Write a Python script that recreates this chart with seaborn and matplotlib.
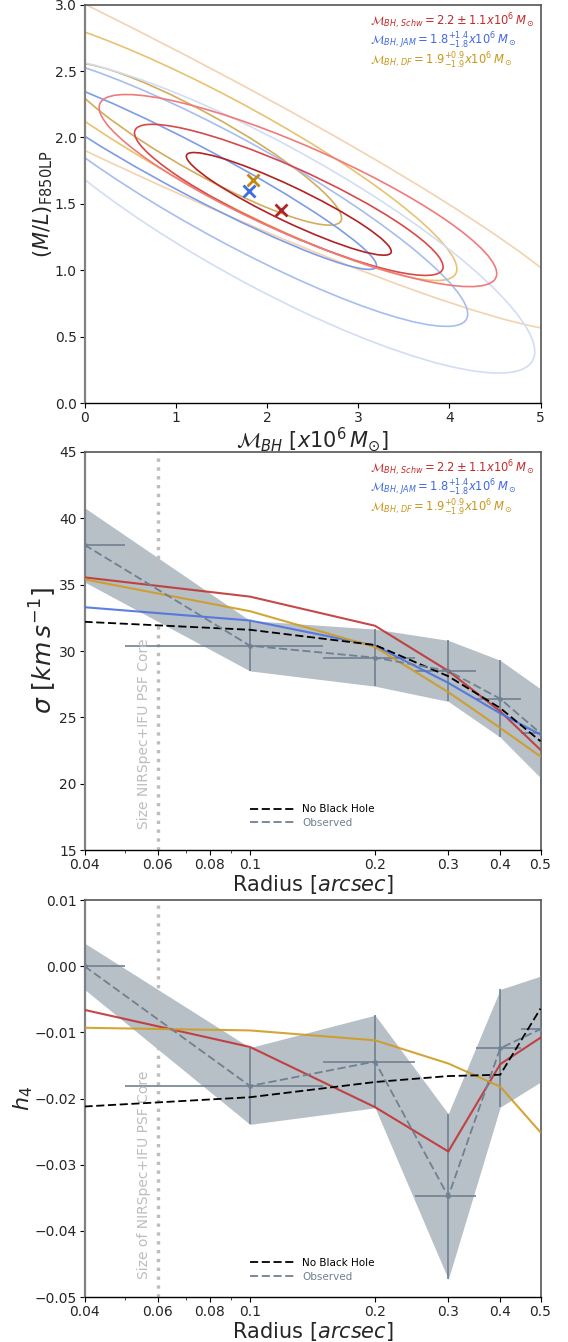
import numpy as np
import pandas as pd
import seaborn as sns
import matplotlib
matplotlib.use("Agg")
import matplotlib.pyplot as plt
from matplotlib.patches import Ellipse
from matplotlib.ticker import NullFormatter, FixedLocator, FixedFormatter

# ---------------- data ----------------
# Panel 1: confidence regions (centre x, centre y, half-major, half-minor, angle deg)
schw_cx = [2.24, 2.24, 2.34]
schw_cy = [1.50, 1.53, 1.60]
schw_a = [1.18, 1.767, 2.27]
schw_b = [0.138, 0.253, 0.35]
schw_ang = [-17.95, -16.95, -16.4]

jam_cx = [1.2, 1.6, 2.0]
jam_cy = [1.75, 1.61, 1.42]
jam_a = [2.126, 2.77, 3.12]
jam_b = [0.198, 0.404, 0.565]
jam_ang = [-19.8, -20.3, -20.06]

df_cx = [1.30, 1.49, -0.5]
df_cy = [1.95, 1.93, 2.62]
df_a = [1.62, 2.755, 6.36]
df_b = [0.234, 0.386, 0.525]
df_ang = [-20.6, -19.95, -18.5]

best_mbh = [2.155, 1.807, 1.845]     # Schw, JAM, DF
best_ml = [1.457, 1.599, 1.68]

# Panels 2/3: kinematic profiles
radius = [0.04, 0.1, 0.2, 0.3, 0.4, 0.5]
rad_lo = [0.04, 0.05, 0.15, 0.25, 0.35, 0.45]
rad_hi = [0.05, 0.15, 0.25, 0.35, 0.45, 0.55]

sigma_obs = [38.0, 30.4, 29.5, 28.5, 26.4, 23.8]
sigma_err = [2.8, 1.9, 2.15, 2.3, 2.9, 3.35]
sigma_schw = [35.55, 34.1, 31.9, 28.5, 25.45, 22.55]
sigma_jam = [33.3, 32.3, 30.4, 27.6, 25.3, 23.7]
sigma_df = [35.4, 33.0, 30.3, 26.9, 24.2, 22.05]
sigma_nobh = [32.2, 31.6, 30.45, 28.1, 25.7, 23.2]

h4_obs = [0.0, -0.0181, -0.0144, -0.0348, -0.0124, -0.0095]
h4_err = [0.0035, 0.0058, 0.007, 0.0125, 0.0089, 0.008]
h4_schw = [-0.0066, -0.0122, -0.0213, -0.028, -0.0148, -0.0108]
h4_df = [-0.0093, -0.0097, -0.0112, -0.0147, -0.0182, -0.0251]
h4_nobh = [-0.0212, -0.0198, -0.0175, -0.0166, -0.0164, -0.0064]

xticks_log = [0.04, 0.06, 0.08, 0.1, 0.2, 0.3, 0.4, 0.5]
xticklabels_log = ['0.04', '0.06', '0.08', '0.1', '0.2', '0.3', '0.4', '0.5']
minor_log = [0.05, 0.07, 0.09]
psf_radius = 0.06

lab_schw = r'$\mathcal{M}_{BH,\,Schw} = 2.2 \pm 1.1x10^6\,M_\odot$'
lab_jam = r'$\mathcal{M}_{BH,\,JAM} = 1.8^{+1.4}_{-1.8}x10^6\,M_\odot$'
lab_df = r'$\mathcal{M}_{BH,\,DF} = 1.9^{+0.9}_{-1.9}x10^6\,M_\odot$'

# ---------------- style ----------------
sns.set_theme(style="ticks")
plt.rcParams['font.family'] = ['DejaVu Sans']
plt.rcParams['mathtext.fontset'] = 'dejavusans'
plt.rcParams['axes.unicode_minus'] = True

C_RED = '#c03535'
C_BLUE = '#4a72e0'
C_GOLD = '#cf9c22'
C_OBS = '#708090'
C_PSF = '#bdbdbd'

red_cols = ['#b22222', '#d94848', '#f07a7a']
blue_cols = ['#7d9ce8', '#a6bdf0', '#d2ddf3']
gold_cols = ['#d2ad5c', '#e8c270', '#f3d2b0']

fig = plt.figure(figsize=(5.68, 13.42), dpi=100)
L, W = 0.1488, 0.8028
ax1 = fig.add_axes([L, 0.6997, W, 0.2968])
ax2 = fig.add_axes([L, 0.3666, W, 0.2966])
ax3 = fig.add_axes([L, 0.0335, W, 0.2958])


def style_axes(ax):
    for s in ['top', 'right']:
        ax.spines[s].set_color('#555555')
        ax.spines[s].set_linewidth(1.2)
    ax.spines['left'].set_color('#808080')
    ax.spines['left'].set_linewidth(1.6)
    ax.spines['bottom'].set_color('black')
    ax.spines['bottom'].set_linewidth(1.0)
    ax.tick_params(axis='both', which='major', direction='out', length=3.5,
                   width=0.8, labelsize=10, color='black', pad=2)
    ax.tick_params(axis='both', which='minor', direction='out', length=2,
                   width=0.6)


# ---------------- panel 1 ----------------
for cx, cy, a, b, ang, cols in [
        (df_cx, df_cy, df_a, df_b, df_ang, gold_cols),
        (jam_cx, jam_cy, jam_a, jam_b, jam_ang, blue_cols),
        (schw_cx, schw_cy, schw_a, schw_b, schw_ang, red_cols)]:
    for i in range(3):
        e = Ellipse((cx[i], cy[i]), 2 * a[i], 2 * b[i], angle=ang[i],
                    fill=False, edgecolor=cols[i], lw=1.2)
        ax1.add_patch(e)

mk_cols = ['#b22222', '#3b6fe0', '#c08a10']
for i in range(3):
    ax1.plot(best_mbh[i], best_ml[i], marker='x', ms=9, mew=2,
             color=mk_cols[i], ls='none')

ax1.set_xlim(0, 5)
ax1.set_ylim(0, 3)
ax1.set_xticks([0, 1, 2, 3, 4, 5])
ax1.set_yticks(np.arange(0, 3.01, 0.5))
ax1.set_yticklabels([f'{v:.1f}' for v in np.arange(0, 3.01, 0.5)])
ax1.set_xlabel(r'$\mathcal{M}_{BH}\ [x10^6\,M_{\odot}]$', fontsize=15, labelpad=1)
ax1.set_ylabel(r'$(M/L)_{\rm F850LP}$', fontsize=15, labelpad=0)
style_axes(ax1)


def mass_labels(ax):
    ax.text(0.626, 0.960, lab_schw, color='#c42a2a', fontsize=8.3,
            transform=ax.transAxes, va='center', ha='left')
    ax.text(0.626, 0.910, lab_jam, color='#4169e1', fontsize=8.3,
            transform=ax.transAxes, va='center', ha='left')
    ax.text(0.626, 0.859, lab_df, color='#c8961a', fontsize=8.3,
            transform=ax.transAxes, va='center', ha='left')


mass_labels(ax1)


# ---------------- panels 2 & 3 ----------------
def kin_panel(ax, obs, err, models, nobh, ylim, yticks, yticklabels, ylabel,
              ylabel_size, psf_text, psf_y, leg_anchor):
    lo = np.array(obs) - np.array(err)
    hi = np.array(obs) + np.array(err)
    ax.fill_between(radius, lo, hi, color=C_OBS, alpha=0.5, lw=0)
    xerr = [np.array(radius) - np.array(rad_lo), np.array(rad_hi) - np.array(radius)]
    ax.errorbar(radius, obs, yerr=err, xerr=xerr, fmt='o', ms=2.5,
                color=C_OBS, ecolor=C_OBS, alpha=0.85, elinewidth=1.4,
                capsize=0, zorder=3)
    ax.axvline(psf_radius, color=C_PSF, ls=':', lw=2.4, zorder=1)
    for vals, col in models:
        sns.lineplot(x=radius, y=vals, ax=ax, color=col, lw=1.5, alpha=0.9,
                     zorder=4)
    sns.lineplot(x=radius, y=nobh, ax=ax, color='black', lw=1.3, zorder=5,
                 label='No Black Hole')
    ax.lines[-1].set_linestyle((0, (4.5, 2)))
    sns.lineplot(x=radius, y=obs, ax=ax, color=C_OBS, lw=1.3, zorder=5,
                 label='Observed')
    ax.lines[-1].set_linestyle((0, (4.5, 2)))
    ax.set_xscale('log')
    ax.set_xlim(0.04, 0.5)
    ax.set_ylim(*ylim)
    ax.xaxis.set_major_locator(FixedLocator(xticks_log))
    ax.xaxis.set_major_formatter(FixedFormatter(xticklabels_log))
    ax.xaxis.set_minor_locator(FixedLocator(minor_log))
    ax.xaxis.set_minor_formatter(NullFormatter())
    ax.set_yticks(yticks)
    ax.set_yticklabels(yticklabels)
    ax.set_xlabel(r'Radius [$arcsec$]', fontsize=15, labelpad=1)
    ax.set_ylabel(ylabel, fontsize=ylabel_size, labelpad=0)
    ax.text(0.0557, psf_y, psf_text, rotation=90, color=C_PSF, fontsize=10,
            ha='center', va='bottom')
    leg = ax.legend(loc='lower left', bbox_to_anchor=leg_anchor,
                    borderaxespad=0, frameon=False, fontsize=7.5,
                    handlelength=4.2, handletextpad=0.8, labelspacing=0.35)
    for t, c in zip(leg.get_texts(), ['black', C_OBS]):
        t.set_color(c)
    style_axes(ax)


kin_panel(ax2, sigma_obs, sigma_err,
          [(sigma_schw, C_RED), (sigma_jam, C_BLUE), (sigma_df, C_GOLD)],
          sigma_nobh, (15, 45), [15, 20, 25, 30, 35, 40, 45],
          ['15', '20', '25', '30', '35', '40', '45'],
          r'$\sigma\ [km\,s^{-1}]$', 18, 'Size NIRSpec+IFU PSF Core', 16.6,
          (0.354, 0.045))
mass_labels(ax2)

h4_ticks = [-0.05, -0.04, -0.03, -0.02, -0.01, 0.0, 0.01]
h4_labels = ['\u22120.05', '\u22120.04', '\u22120.03', '\u22120.02', '\u22120.01',
             '0.00', '0.01']
kin_panel(ax3, h4_obs, h4_err, [(h4_schw, C_RED), (h4_df, C_GOLD)],
          h4_nobh, (-0.05, 0.01), h4_ticks, h4_labels, r'$h_4$', 16,
          'Size of NIRSpec+IFU PSF Core', -0.0473, (0.354, 0.028))

fig.savefig('out.png', dpi=100)
